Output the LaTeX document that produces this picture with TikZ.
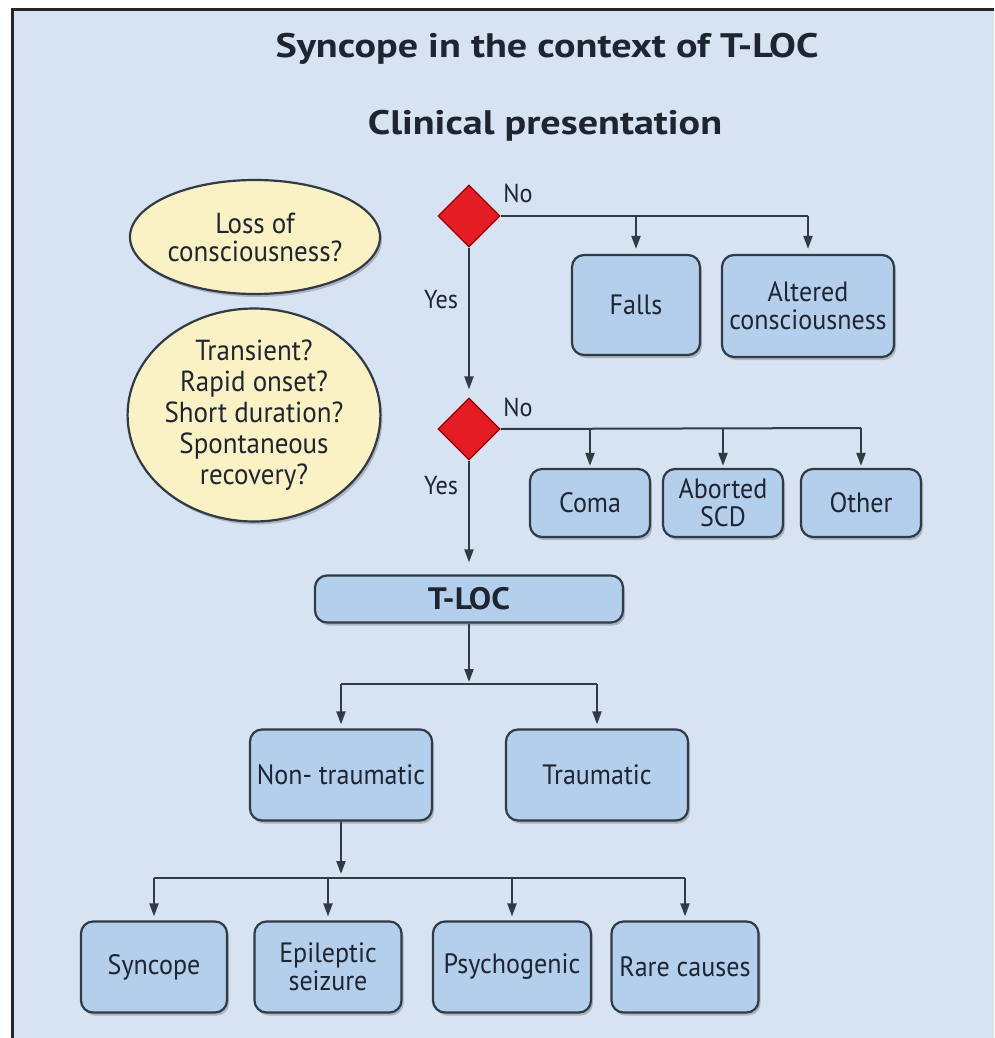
\documentclass[tikz,border=0pt]{standalone}
\usepackage{fontspec}
\setmainfont{PT Sans}[FakeStretch=0.93]
\newfontfamily\titlefont{PT Sans}[FakeStretch=1.18]
\newfontfamily\tlocfont{PT Sans}[FakeStretch=1.08]
\usetikzlibrary{shapes.geometric,arrows.meta,shadows}
\definecolor{bgcol}{RGB}{214,227,242}
\definecolor{boxcol}{RGB}{180,207,236}
\definecolor{elcol}{RGB}{250,242,196}
\definecolor{redcol}{RGB}{230,28,36}
\definecolor{linecol}{RGB}{50,58,70}
\definecolor{txtcol}{RGB}{30,36,48}
\begin{document}
\begin{tikzpicture}[x=1pt,y=-1pt,
  every node/.style={text=txtcol},
  shad/.style={drop shadow={shadow xshift=2pt,shadow yshift=-3pt,opacity=0.3,fill=black!70}},
  box/.style={draw=linecol,line width=2.2pt,fill=boxcol,rounded corners=12pt,
    align=center,inner sep=0pt,shad,font=\fontsize{28}{28}\selectfont},
  oval/.style={ellipse,draw=linecol,line width=2.2pt,fill=elcol,align=center,
    inner sep=0pt,shad},
  dec/.style={diamond,draw=red!60!black,line width=1.2pt,fill=redcol,
    minimum width=62pt,minimum height=62pt,inner sep=0pt,aspect=1},
  lab/.style={font=\fontsize{26}{28}\selectfont},
  conn/.style={draw=linecol,line width=2pt},
  arr/.style={conn,-{Triangle[length=13pt,width=9pt]}},
]
\useasboundingbox (0,0) rectangle (994,1038);
\fill[bgcol] (12,10) rectangle (994,1038);
\draw[line width=3pt,black!85] (12,1038) -- (12,10) -- (994,10);

\node[font=\titlefont\bfseries\fontsize{34}{38}\selectfont,anchor=base] (title) at (547,58) {Syncope in the context of T-LOC};
\node[font=\titlefont\bfseries\fontsize{34}{38}\selectfont,anchor=base] (sub) at (545,135) {Clinical presentation};

% ellipses
\node[oval,minimum width=250pt,minimum height=114pt,font=\fontsize{29}{28}\selectfont] (e1) at (255,237) {Loss of\\consciousness?};
\node[oval,minimum width=248pt,minimum height=204pt,font=\fontsize{29}{31}\selectfont] (e2) at (254,415) {Transient?\\Rapid onset?\\Short duration?\\Spontaneous\\recovery?};

% decisions
\node[dec] (d1) at (469,216) {};
\node[dec] (d2) at (469,429) {};

\node[lab] (no1) at (518,193) {No};
\node[lab] (yes1) at (441,300) {Yes};
\node[lab] (no2) at (518,407) {No};
\node[lab] (yes2) at (441,486) {Yes};

% boxes
\node[box,minimum width=128pt,minimum height=100pt] (falls) at (636,305) {Falls};
\node[box,minimum width=172pt,minimum height=102pt] (alt) at (808,306) {Altered\\consciousness};
\node[box,minimum width=120pt,minimum height=68pt] (coma) at (590,503) {Coma};
\node[box,minimum width=120pt,minimum height=68pt] (scd) at (723,503) {Aborted\\SCD};
\node[box,minimum width=120pt,minimum height=68pt] (other) at (861,503) {Other};
\node[box,minimum width=308pt,minimum height=47pt,font=\tlocfont\bfseries\fontsize{31}{31}\selectfont] (tloc) at (469,599) {T-LOC};
\node[box,minimum width=182pt,minimum height=91pt] (nontr) at (341,775) {Non- traumatic};
\node[box,minimum width=182pt,minimum height=91pt] (tr) at (597,775) {Traumatic};
\node[box,minimum width=146pt,minimum height=91pt] (sync) at (154,967) {Syncope};
\node[box,minimum width=147pt,minimum height=91pt] (epi) at (328,967) {Epileptic\\seizure};
\node[box,minimum width=158pt,minimum height=91pt] (psy) at (512,967) {Psychogenic};
\node[box,minimum width=147pt,minimum height=91pt] (rare) at (685,967) {Rare causes};

% bar coordinates
\coordinate (b1) at (808,216);
\coordinate (b2) at (861,428);
\coordinate (b3) at (469,684);
\coordinate (b3l) at (341,684);
\coordinate (b3r) at (597,684);
\coordinate (b4) at (341,878);
\coordinate (b4l) at (154,878);
\coordinate (b4r) at (685,878);

% connectors row 1
\draw[conn] (d1.east) -- (b1);
\draw[arr,shorten >=5pt] (d1.east -| falls.north) -- (falls.north);
\draw[arr,shorten >=5pt] (b1) -- (alt.north);
\draw[arr,shorten >=8pt] (d1.south) -- (d2.north);

% row 2
\draw[conn] (d2.east) -- (b2);
\draw[arr,shorten >=2pt] (d2.east -| coma.north) -- (coma.north);
\draw[arr,shorten >=2pt] (d2.east -| scd.north) -- (scd.north);
\draw[arr,shorten >=2pt] (b2) -- (other.north);
\draw[arr,shorten >=12pt] (d2.south) -- (tloc.north);

% T-LOC split
\draw[arr,shorten >=2pt] (tloc.south) -- (b3);
\draw[conn] (b3l) -- (b3r);
\draw[arr,shorten >=4pt] (b3l) -- (nontr.north);
\draw[arr,shorten >=4pt] (b3r) -- (tr.north);

% Non-traumatic split
\draw[arr,shorten >=4pt] (nontr.south) -- (b4);
\draw[conn] (b4l) -- (b4r);
\draw[arr,shorten >=4pt] (b4l) -- (sync.north);
\draw[arr,shorten >=4pt] (b4 -| epi.north) -- (epi.north);
\draw[arr,shorten >=4pt] (b4 -| psy.north) -- (psy.north);
\draw[arr,shorten >=4pt] (b4r) -- (rare.north);
\end{tikzpicture}
\end{document}
